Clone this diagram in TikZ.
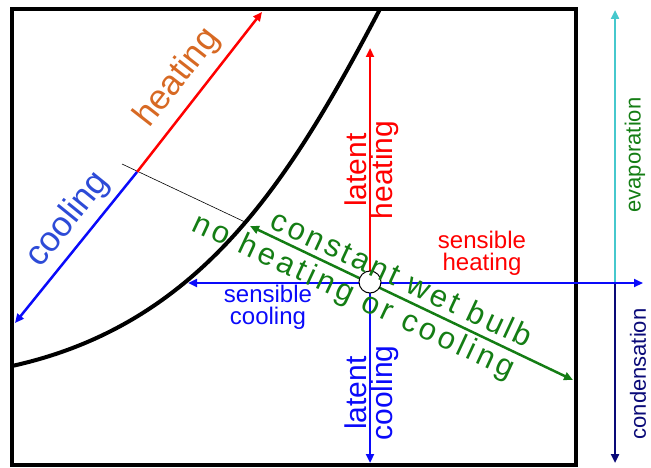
\documentclass[tikz,border=0pt]{standalone}
\usepackage{fontspec}
\setmainfont{Liberation Sans}
\newfontfamily\trackfont[LetterSpace=10]{Liberation Sans}
\newfontfamily\widetrackfont[LetterSpace=12]{Liberation Sans}
\usetikzlibrary{
    arrows.meta
}

\definecolor{heatred}{RGB}{255,0,0}
\definecolor{coolblue}{RGB}{10,10,250}
\definecolor{wbgreen}{RGB}{20,125,20}
\definecolor{heatorange}{RGB}{215,105,35}
\definecolor{coolword}{RGB}{45,75,215}
\definecolor{evapcyan}{RGB}{70,200,205}
\definecolor{condnavy}{RGB}{10,10,120}

\begin{document}
\begin{tikzpicture}[
    x=1pt, y=-1pt,
    frame/.style={draw, line width=4pt},
    satcurve/.style={line width=4pt},
    arrow/.style={-{Triangle[length=9pt,width=8pt]}, line width=2.5pt},
    twoway/.style={{Triangle[length=9pt,width=8pt]}-{Triangle[length=9pt,width=8pt]}, line width=2.5pt},
    state/.style={
        circle,
        draw,
        fill=white,
        line width=1pt,
        minimum size=22pt,
        inner sep=0pt
    },
    bigword/.style={font=\fontsize{35}{40}\selectfont},
    latent/.style={font=\fontsize{30}{26}\selectfont, align=center, rotate=90},
    sensible/.style={font=\fontsize{24}{22}\selectfont, align=center},
    phase/.style={font=\fontsize{22}{24}\selectfont, rotate=90},
    wetbulb/.style={text=wbgreen, rotate=-25}
]
\useasboundingbox (0,0) rectangle (651,468);

% ---------- Frame and saturation curve ----------
\coordinate (nw) at (12,9);
\coordinate (se) at (576,465);
\coordinate (satLow) at (12,366);
\coordinate (satHigh) at (380,9);

\draw[satcurve] (satLow) .. controls (202,324) and (290,180) .. (satHigh);
\draw[frame] (nw) rectangle (se);

% ---------- Points ----------
\coordinate (mid) at (137,172);
\coordinate (heatEnd) at (262,12);
\coordinate (coolEnd) at (15,323);
\coordinate (tickA) at (122,164);
\coordinate (tickB) at (245,222);
\coordinate (sensL) at (188,283);
\coordinate (sensR) at (643,283);
\coordinate (latUp) at (370,48);
\coordinate (latDown) at (370,463);
\coordinate (wbUp) at (250,226);
\coordinate (wbDown) at (573,380);
\coordinate (phase) at (615,283);
\coordinate (evapEnd) at (615,10);
\coordinate (condEnd) at (615,463);

% ---------- Heating / cooling line ----------
\draw[line width=0.6pt] (tickA) -- (tickB);
\draw[arrow, heatred] (mid) -- (heatEnd);
\draw[arrow, coolblue] (mid) -- (coolEnd);

% ---------- Process arrows ----------
\draw[arrow, evapcyan] (phase) -- (evapEnd);
\draw[arrow, condnavy] (phase) -- (condEnd);
\draw[twoway, coolblue] (sensL) -- (sensR);
\draw[arrow, heatred] (370,282) -- (latUp);
\draw[arrow, coolblue] (370,282) -- (latDown);
\draw[twoway, wbgreen] (wbUp) -- (wbDown);

\node[state] (state) at (370,282) {};

% ---------- Labels ----------
\node[bigword, text=heatorange, rotate=52] (heatTxt) at (178,78) {heating};
\node[bigword, text=coolword, rotate=51] (coolTxt) at (68,220) {cooling};

\node[latent, text=heatred] (latHeat) at (372,170) {latent\\heating};
\node[latent, text=coolblue] (latCool) at (372,393) {latent\\cooling};

\node[sensible, text=heatred] (sensHeat) at (482,253) {sensible\\heating};
\node[sensible, text=coolblue] (sensCool) at (268,307) {sensible\\cooling};

\node[wetbulb, font=\trackfont\fontsize{31}{32}\selectfont] (wbTop) at (402,278) {constant wet bulb};
\node[wetbulb, font=\widetrackfont\fontsize{31}{32}\selectfont] (wbBot) at (353,297) {no heating or cooling};

\node[phase, text=wbgreen] (evapTxt) at (635,155) {evaporation};
\node[phase, text=condnavy] (condTxt) at (638,374) {condensation};

\end{tikzpicture}
\end{document}
